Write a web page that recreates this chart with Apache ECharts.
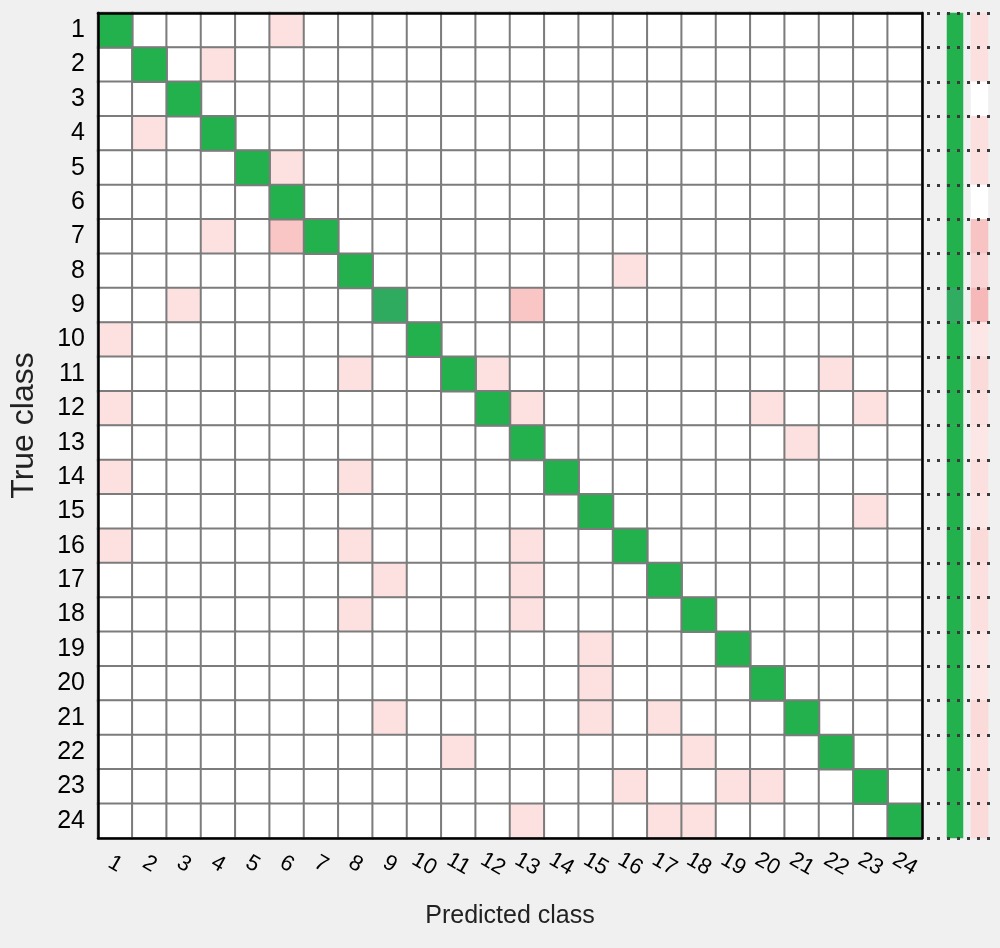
<!DOCTYPE html>
<html>
<head>
<meta charset="utf-8">
<script src="https://cdn.jsdelivr.net/npm/echarts@6/dist/echarts.min.js"></script>
<style>
html,body{margin:0;padding:0;background:#f0f0f0;}
#c{width:1000px;height:948px;}
</style>
</head>
<body>
<div id="c"></div>
<script>
// ---- data ----
const classes = ['1','2','3','4','5','6','7','8','9','10','11','12','13','14','15','16','17','18','19','20','21','22','23','24'];
// correct predictions per true class (diagonal)
const diagCounts = [20,20,20,20,20,20,20,20,17,20,20,20,20,20,20,20,20,20,20,20,20,20,20,20];
// misclassifications: [true class, predicted class, count]
const errors = [
  [1,6,1],[2,4,1],[4,2,1],[5,6,1],[7,4,1],[7,6,2],[8,16,1],[9,3,1],[9,13,2],
  [10,1,1],[11,8,1],[11,12,1],[11,22,1],[12,1,1],[12,13,1],[12,20,1],[12,23,1],
  [13,21,1],[14,1,1],[14,8,1],[15,23,1],[16,1,1],[16,8,1],[16,13,1],
  [17,9,1],[17,13,1],[18,8,1],[18,13,1],[19,15,1],[20,15,1],
  [21,9,1],[21,15,1],[21,17,1],[22,11,1],[22,18,1],
  [23,16,1],[23,19,1],[23,20,1],[24,13,1],[24,17,1],[24,18,1]
];
// summary columns (percent), per true class
const tprPct = [95,95,100,95,95,100,90,95,88,95,90,90,95,95,95,90,95,95,95,95,90,95,90,90];
const fnrPct = [5,5,0,5,5,0,10,7,12,4,6,5,4,5,4,6,5,5,4,4,6,5,6,6];

// ---- build series data ----
const n = classes.length;
const errMap = {};
errors.forEach(e => { errMap[(e[0]-1)+'_'+(e[1]-1)] = e[2]; });
const offData = [];
const diagData = [];
for (let r = 0; r < n; r++) {
  for (let c = 0; c < n; c++) {
    if (r === c) diagData.push([c, r, diagCounts[r]]);
    else offData.push([c, r, errMap[r+'_'+c] || 0]);
  }
}
const tprData = tprPct.map((v, i) => [0, i, v]);
const fnrData = fnrPct.map((v, i) => [0, i, v]);

const gTop = 13, gBottom = 110;
const chart = echarts.init(document.getElementById('c'));
const font = 'Liberation Sans, Arial, sans-serif';
chart.setOption({
  backgroundColor: '#f0f0f0',
  animation: false,
  grid: [
    {left: 96, right: 78, top: gTop, bottom: gBottom, backgroundColor: '#ffffff', show: true, borderWidth: 0},
    {left: 947, width: 16, top: gTop, bottom: gBottom},
    {left: 971, width: 17, top: gTop, bottom: gBottom},
    {left: 927, width: 64, top: gTop, bottom: gBottom}
  ],
  xAxis: [
    {gridIndex: 0, type: 'category', data: classes, position: 'bottom', z: 10,
     axisLine: {lineStyle: {color: '#000', width: 2.5}}, axisTick: {show: false},
     axisLabel: {color: '#000', fontFamily: font, fontSize: 22, rotate: -30, align: 'center', verticalAlign: 'middle', margin: 26, interval: 0},
     name: 'Predicted class', nameLocation: 'middle', nameGap: 66,
     nameTextStyle: {color: '#222', fontFamily: font, fontSize: 25}},
    {gridIndex: 0, type: 'category', data: classes, position: 'top', z: 10,
     axisLine: {lineStyle: {color: '#000', width: 2.5}}, axisTick: {show: false}, axisLabel: {show: false}},
    {gridIndex: 1, type: 'category', data: ['TPR'], show: false},
    {gridIndex: 2, type: 'category', data: ['FNR'], show: false},
    {gridIndex: 3, type: 'value', min: 0, max: 1, show: false}
  ],
  yAxis: [
    {gridIndex: 0, type: 'category', data: classes, inverse: true, position: 'left', z: 10,
     axisLine: {lineStyle: {color: '#000', width: 2.5}}, axisTick: {show: false},
     axisLabel: {color: '#000', fontFamily: font, fontSize: 25, margin: 13, interval: 0},
     name: 'True class', nameLocation: 'middle', nameGap: 58, nameRotate: 90,
     nameTextStyle: {color: '#222', fontFamily: font, fontSize: 32}},
    {gridIndex: 0, type: 'category', data: classes, inverse: true, position: 'right', z: 10,
     axisLine: {lineStyle: {color: '#000', width: 2.5}}, axisTick: {show: false}, axisLabel: {show: false}},
    {gridIndex: 1, type: 'category', data: classes, inverse: true, show: false},
    {gridIndex: 2, type: 'category', data: classes, inverse: true, show: false},
    {gridIndex: 3, type: 'category', data: classes, inverse: true, z: 20,
     axisLine: {show: false}, axisTick: {show: false}, axisLabel: {show: false},
     splitLine: {show: true, interval: 0, lineStyle: {color: '#3a3a3a', width: 3, type: [3, 7]}}}
  ],
  visualMap: [
    {type: 'piecewise', show: false, seriesIndex: 0, dimension: 2,
     pieces: [{min: -0.5, max: 0.5, color: '#ffffff'}, {min: 0.5, max: 1.5, color: '#fde1e1'}, {min: 1.5, max: 100, color: '#f9c5c5'}]},
    {type: 'piecewise', show: false, seriesIndex: 1, dimension: 2,
     pieces: [{min: 0, max: 18, color: '#2fab5f'}, {min: 18, max: 100, color: '#22b14c'}]},
    {type: 'piecewise', show: false, seriesIndex: 2, dimension: 2,
     pieces: [{min: 0, max: 89, color: '#31ad61'}, {min: 89, max: 101, color: '#22b14c'}]},
    {type: 'continuous', show: false, seriesIndex: 3, dimension: 2, min: 0, max: 12,
     inRange: {color: ['#ffffff', '#fbdada', '#f6b8b8']}}
  ],
  series: [
    {type: 'heatmap', xAxisIndex: 0, yAxisIndex: 0, data: offData,
     itemStyle: {borderColor: '#7c7c7c', borderWidth: 2}},
    {type: 'heatmap', xAxisIndex: 0, yAxisIndex: 0, data: diagData,
     itemStyle: {borderColor: '#7c7c7c', borderWidth: 2}},
    {type: 'heatmap', xAxisIndex: 2, yAxisIndex: 2, data: tprData},
    {type: 'heatmap', xAxisIndex: 3, yAxisIndex: 3, data: fnrData}
  ]
});
</script>
</body>
</html>
